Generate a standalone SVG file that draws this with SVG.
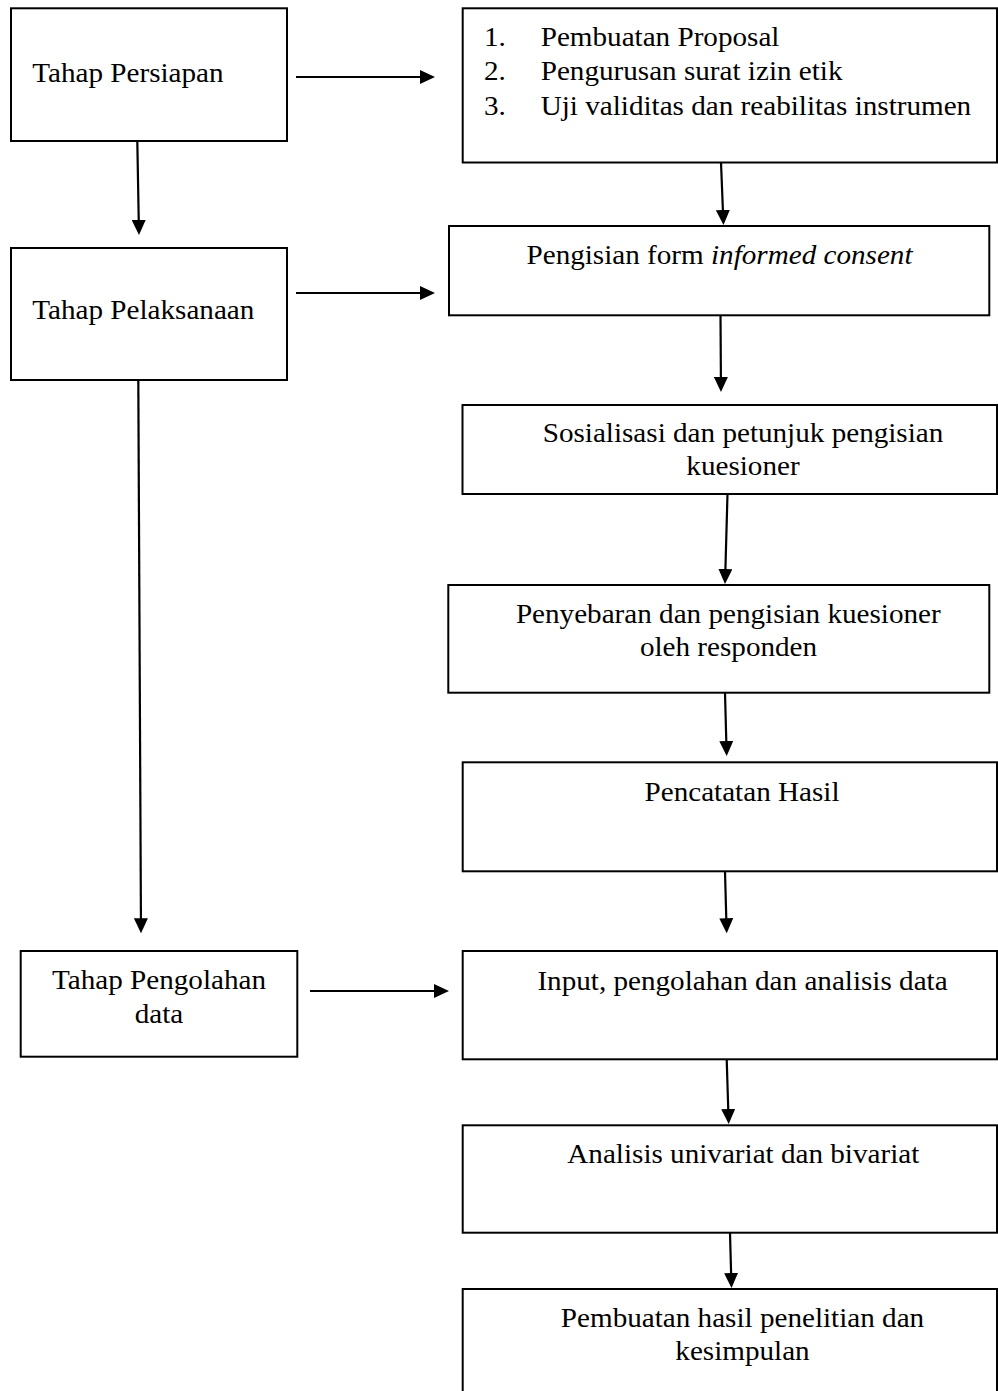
<svg xmlns="http://www.w3.org/2000/svg" width="998" height="1391" viewBox="0 0 998 1391">
<style>
.box{fill:#fff;stroke:#000;stroke-width:2}
.c{stroke:#000;stroke-width:2.2;fill:none;marker-end:url(#ah)}
.t{font-family:"Liberation Serif","Times New Roman",serif;font-size:26.5px;fill:#000}
.m{text-anchor:middle}
</style>
<defs>
<marker id="ah" viewBox="0 0 15 14" refX="1" refY="7" markerWidth="15" markerHeight="14" markerUnits="userSpaceOnUse" orient="auto">
<path d="M0,0 L15,7 L0,14 Z" fill="#000"/>
</marker>
</defs>
<rect width="998" height="1391" fill="#fff"/>
<g id="connectors">
<line class="c" x1="296" y1="77" x2="421" y2="77"/>
<line class="c" x1="137.3" y1="141" x2="138.75" y2="221"/>
<line class="c" x1="296" y1="293" x2="421" y2="293"/>
<line class="c" x1="138.3" y1="380" x2="140.93" y2="919.3"/>
<line class="c" x1="310" y1="991" x2="435" y2="991"/>
<line class="c" x1="721" y1="162.5" x2="722.94" y2="211"/>
<line class="c" x1="720.5" y1="315.3" x2="720.9" y2="378"/>
<line class="c" x1="727.5" y1="494" x2="725.39" y2="570"/>
<line class="c" x1="725" y1="692.7" x2="726.32" y2="742"/>
<line class="c" x1="725" y1="871.5" x2="726.31" y2="919.3"/>
<line class="c" x1="726.7" y1="1059.3" x2="728.27" y2="1110"/>
<line class="c" x1="730" y1="1232.7" x2="731.12" y2="1274"/>
</g>
<g id="persiapan">
<rect class="box" x="11" y="8.3" width="276" height="132.7"/>
<text class="t" transform="translate(32.3 82) scale(1.1 1)">Tahap Persiapan</text>
</g>
<g id="persiapan-list">
<rect class="box" x="462.7" y="8.3" width="534.3" height="154.2"/>
<text class="t" transform="translate(484 45.5) scale(1.1 1)">1.</text>
<text class="t" transform="translate(540.7 45.5) scale(1.1 1)">Pembuatan Proposal</text>
<text class="t" transform="translate(484 79.8) scale(1.1 1)">2.</text>
<text class="t" transform="translate(540.7 79.8) scale(1.1 1)">Pengurusan surat izin etik</text>
<text class="t" transform="translate(484 114.7) scale(1.1 1)">3.</text>
<text class="t" transform="translate(540.7 114.7) scale(1.1 1)">Uji validitas dan reabilitas instrumen</text>
</g>
<g id="pelaksanaan">
<rect class="box" x="11" y="248" width="276" height="132"/>
<text class="t" transform="translate(32.3 319.3) scale(1.1 1)">Tahap Pelaksanaan</text>
</g>
<g id="informed-consent">
<rect class="box" x="449" y="226" width="540.3" height="89.3"/>
<text class="t" transform="translate(526.5 264) scale(1.1 1)">Pengisian form <tspan font-style="italic">informed consent</tspan></text>
</g>
<g id="sosialisasi">
<rect class="box" x="462.5" y="405" width="534.5" height="89"/>
<text class="t m" transform="translate(743 442) scale(1.1 1)">Sosialisasi dan petunjuk pengisian</text>
<text class="t m" transform="translate(743 475) scale(1.1 1)">kuesioner</text>
</g>
<g id="penyebaran">
<rect class="box" x="448.3" y="585" width="541" height="107.7"/>
<text class="t m" transform="translate(728.3 622.7) scale(1.1 1)">Penyebaran dan pengisian kuesioner</text>
<text class="t m" transform="translate(728.5 655.7) scale(1.1 1)">oleh responden</text>
</g>
<g id="pencatatan">
<rect class="box" x="462.7" y="762.3" width="534.3" height="109"/>
<text class="t m" transform="translate(742 800.7) scale(1.1 1)">Pencatatan Hasil</text>
</g>
<g id="pengolahan">
<rect class="box" x="20.7" y="951" width="276.6" height="105.7"/>
<text class="t m" transform="translate(159 989.3) scale(1.1 1)">Tahap Pengolahan</text>
<text class="t m" transform="translate(159 1022.7) scale(1.1 1)">data</text>
</g>
<g id="input">
<rect class="box" x="462.7" y="951" width="534.3" height="108.3"/>
<text class="t m" transform="translate(742.5 990) scale(1.1 1)">Input, pengolahan dan analisis data</text>
</g>
<g id="analisis">
<rect class="box" x="462.7" y="1125.3" width="534.3" height="107.4"/>
<text class="t m" transform="translate(743.3 1163.3) scale(1.1 1)">Analisis univariat dan bivariat</text>
</g>
<g id="pembuatan">
<rect class="box" x="462.7" y="1289" width="534.3" height="200"/>
<text class="t m" transform="translate(742.5 1327) scale(1.1 1)">Pembuatan hasil penelitian dan</text>
<text class="t m" transform="translate(742.5 1360) scale(1.1 1)">kesimpulan</text>
</g>
</svg>
